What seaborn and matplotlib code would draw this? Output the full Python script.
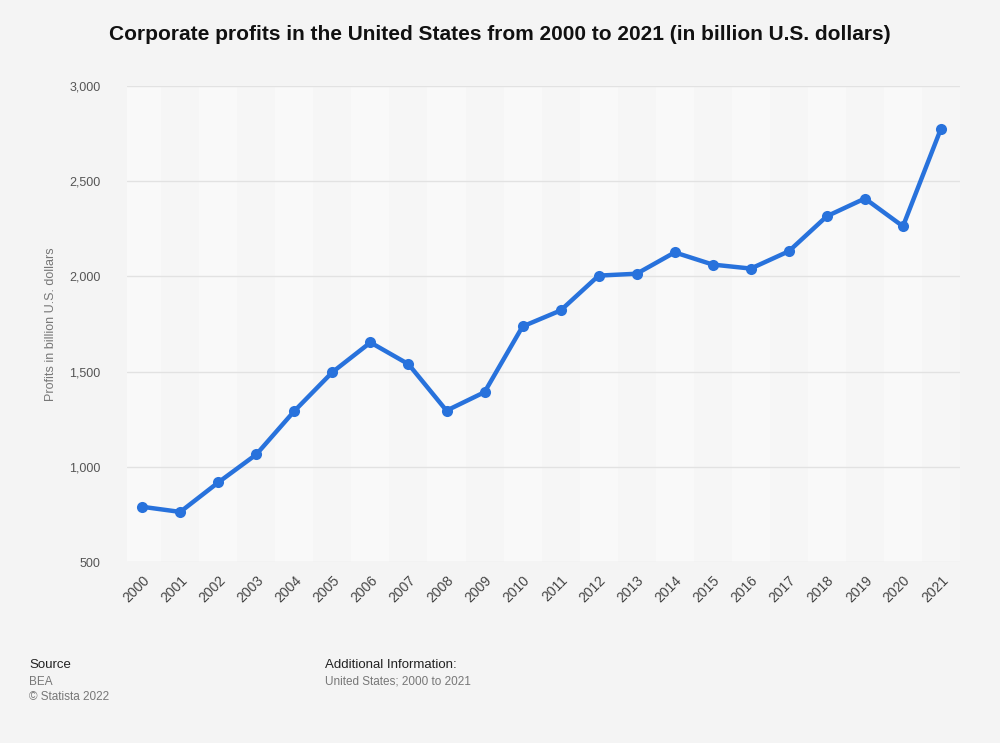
import matplotlib
matplotlib.use("Agg")
import matplotlib.pyplot as plt
import seaborn as sns
import pandas as pd
import numpy as np

years = [str(y) for y in range(2000, 2022)]
profits = [790, 763, 918, 1065, 1293, 1497, 1653, 1539, 1295, 1392, 1737,
           1821, 2004, 2014, 2126, 2062, 2041, 2132, 2316, 2409, 2263, 2776]
y_ticks = [500, 1000, 1500, 2000, 2500, 3000]

title = "Corporate profits in the United States from 2000 to 2021 (in billion U.S. dollars)"
y_label = "Profits in billion U.S. dollars"

sns.set_theme(style="white")
plt.rcParams['font.family'] = ['Liberation Sans', 'DejaVu Sans']

bg = "#f4f4f4"
fig = plt.figure(figsize=(10, 7.43), dpi=100, facecolor=bg)
ax = fig.add_axes([0.127, 0.2436, 0.833, 0.6407])
ax.set_facecolor(bg)

df = pd.DataFrame({"pos": np.arange(len(years)), "year": years, "profit": profits})

# alternating column bands
for i in range(len(years)):
    ax.axvspan(i - 0.5, i + 0.5, color="#f9f9f9" if i % 2 == 0 else "#f6f6f6", lw=0, zorder=0)

for t in y_ticks:
    ax.axhline(t, color="#e2e2e2", lw=1, zorder=1)

sns.lineplot(data=df, x="pos", y="profit", ax=ax, color="#2872dc", lw=3.2,
             marker="o", markersize=8, markeredgewidth=0, zorder=3)

ax.set_xlim(-0.4, 21.5)
ax.set_ylim(500, 3000)
ax.set_yticks(y_ticks)
ax.set_yticklabels([f"{v:,}" for v in y_ticks], color="#555555", fontsize=9)
ax.set_xticks(df["pos"])
ax.set_xticklabels(years, rotation=45, ha="right", rotation_mode="anchor",
                   color="#444444", fontsize=10)
ax.tick_params(axis="y", length=0, pad=19)
ax.tick_params(axis="x", length=0, pad=8)
ax.set_xlabel("")
ax.set_ylabel(y_label, color="#777777", fontsize=9, labelpad=9)
for s in ax.spines.values():
    s.set_visible(False)

fig.text(0.5, 1 - 35 / 743, title, ha="center", va="center", fontsize=15,
         fontweight="bold", color="#111111")

fig.text(0.029, 1 - 665 / 743, "Source", ha="left", va="center", fontsize=9.5, color="#222222")
fig.text(0.029, 1 - 682 / 743, "BEA", ha="left", va="center", fontsize=8.5, color="#777777")
fig.text(0.029, 1 - 697 / 743, "© Statista 2022", ha="left", va="center", fontsize=8.5, color="#777777")
fig.text(0.325, 1 - 665 / 743, "Additional Information:", ha="left", va="center", fontsize=9.5, color="#222222")
fig.text(0.325, 1 - 682 / 743, "United States; 2000 to 2021", ha="left", va="center", fontsize=8.5, color="#777777")

fig.savefig("out.png", dpi=100, facecolor=bg)
